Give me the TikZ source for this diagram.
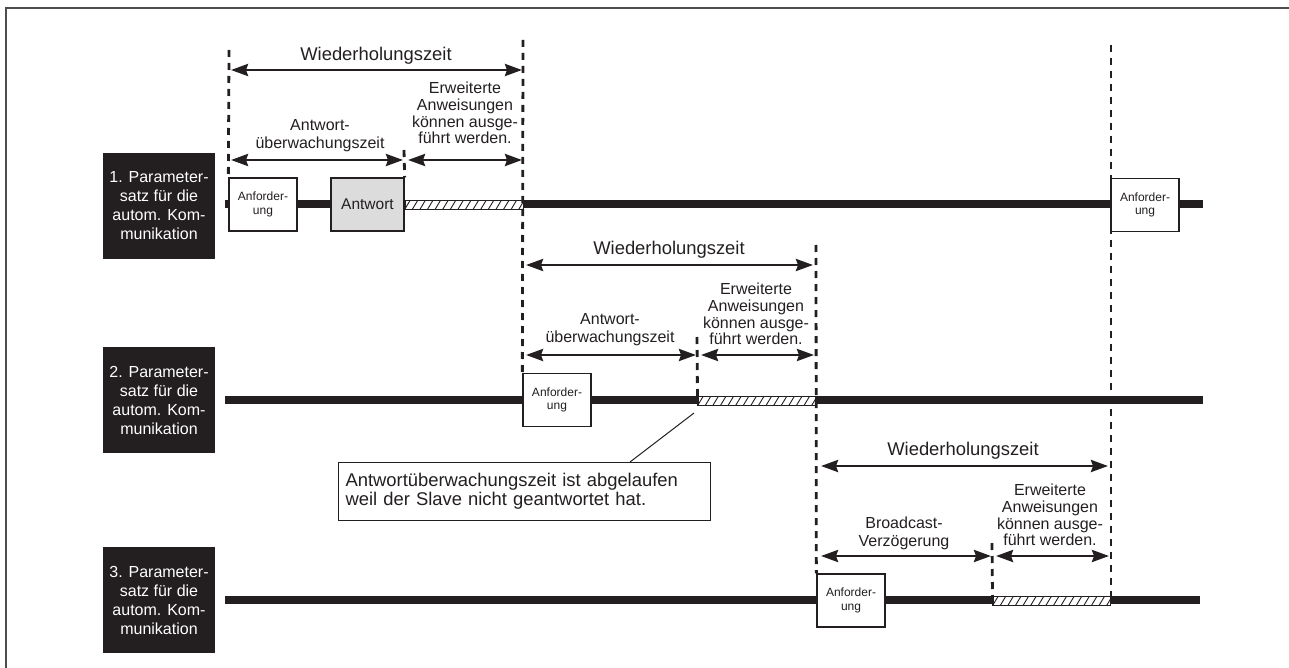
\documentclass[tikz,border=0pt]{standalone}
\usepackage{fontspec}
\setmainfont{Liberation Sans}
\usetikzlibrary{arrows.meta}
\definecolor{ink}{HTML}{231F20}
\definecolor{boxgray}{HTML}{DCDCDC}

\begin{document}
\begin{tikzpicture}[x=1pt,y=-1pt,
  frameline/.style={draw=ink!80, line width=2pt},
  timeline/.style={draw=ink, line width=8pt},
  guide/.style={draw=ink, line width=2.8pt, dash pattern=on 7pt off 6pt},
  span/.style={draw=ink, line width=2.8pt,
    {Stealth[length=17pt,width=12pt,inset=2pt]}-{Stealth[length=17pt,width=12pt,inset=2pt]}},
  labelbox/.style={fill=ink, text=white, minimum width=112pt, minimum height=106pt,
    inner sep=0pt, align=center, font=\fontsize{16}{19}\selectfont},
  reqbox/.style={draw=ink, fill=white, line width=1.3pt, minimum width=68pt,
    minimum height=53pt, inner sep=0pt, align=center, text=ink,
    font=\fontsize{12}{13.5}\selectfont},
  ansbox/.style={reqbox, fill=boxgray, minimum width=73pt, font=\fontsize{15.5}{18}\selectfont},
  hatchbar/.style={draw=ink, fill=white, line width=1pt, inner sep=0pt, minimum height=8.5pt},
  hatchline/.style={draw=ink, line width=0.9pt},
  period/.style={text=ink, inner sep=0pt, font=\fontsize{18.4}{22}\selectfont},
  phase/.style={text=ink, inner sep=0pt, align=center, font=\fontsize{16}{18}\selectfont},
  extra/.style={text=ink, inner sep=0pt, align=center, font=\fontsize{16}{16.8}\selectfont},
  note/.style={draw=ink, fill=white, line width=1pt, align=left, text=ink,
    text width=358pt, inner xsep=7pt, inner ysep=0pt, minimum height=58pt,
    font=\fontsize{18.4}{18.6}\selectfont}
]
\useasboundingbox (0,0) rectangle (1289,668);

% frame (top and left edge)
\coordinate (fTL) at (6,8);
\coordinate (fTR) at (1289,8);
\coordinate (fBL) at (6,668);
\draw[frameline] (fTR) -- (fTL) -- (fBL);

% parameter set labels
\node[labelbox] (p1) at (159,206) {1. Parameter-\\satz für die\\autom. Kom-\\munikation};
\node[labelbox] (p2) at (159,400) {2. Parameter-\\satz für die\\autom. Kom-\\munikation};
\node[labelbox] (p3) at (159,600) {3. Parameter-\\satz für die\\autom. Kom-\\munikation};

% time lines
\coordinate (t1a) at (225,204);  \coordinate (t1b) at (1203,204);
\coordinate (t2a) at (225,400);  \coordinate (t2b) at (1203,400);
\coordinate (t3a) at (225,600);  \coordinate (t3b) at (1200,600);
\draw[timeline] (t1a) -- (t1b);
\draw[timeline] (t2a) -- (t2b);
\draw[timeline] (t3a) -- (t3b);

% hatched phases (extended instructions)
\node[hatchbar, minimum width=118pt] (h1) at (464,205) {};
\node[hatchbar, minimum width=117pt] (h2) at (756.5,401) {};
\node[hatchbar, minimum width=117pt] (h3) at (1051.5,601) {};
\foreach \h in {h1,h2,h3}{
  \begin{scope}
    \clip (\h.south west) rectangle (\h.north east);
    \foreach \k in {-1,...,16}
      \draw[hatchline] ([xshift=\k*7.6pt]\h.south west) -- ++(6,-10);
  \end{scope}
  \draw[draw=ink, line width=1pt] (\h.south west) rectangle (\h.north east);
}

% telegram boxes
\node[reqbox] (r1) at (263,204.5) {Anforder-\\ung};
\node[ansbox] (ans) at (367.5,204.5) {Antwort};
\node[reqbox] (r1b) at (1145,205) {Anforder-\\ung};
\node[reqbox] (r2) at (557,400) {Anforder-\\ung};
\node[reqbox] (r3) at (851,600.5) {Anforder-\\ung};

% dashed time marks
\coordinate (g1) at (229,50);
\coordinate (g2) at (523,40);
\coordinate (g3) at (404,150);
\coordinate (g4) at (1111,45);
\coordinate (g4e) at (1111,598);
\coordinate (g5) at (816,245);
\coordinate (g6) at (697,337);
\coordinate (g7) at (992,543);
\draw[guide] (g1) -- (r1.north west);
\draw[guide] (g2) -- (r2.north west);
\draw[guide] (g3) -- (ans.north east);
\draw[guide] (g4) -- (g4e);
\draw[guide] (g5) -- (r3.north west);
\draw[guide] (g6) -- (h2.north west);
\draw[guide] (g7) -- (h3.north west);

% span arrows, row 1
\coordinate (a1l) at (231,70);  \coordinate (a1r) at (522,70);
\coordinate (b1l) at (231,160); \coordinate (b1r) at (403,160);
\coordinate (c1l) at (408,160); \coordinate (c1r) at (522,160);
\draw[span] (a1l) -- (a1r);
\draw[span] (b1l) -- (b1r);
\draw[span] (c1l) -- (c1r);

% span arrows, row 2
\coordinate (a2l) at (526,265); \coordinate (a2r) at (813,265);
\coordinate (b2l) at (526,355); \coordinate (b2r) at (696,355);
\coordinate (c2l) at (701,355); \coordinate (c2r) at (814,355);
\draw[span] (a2l) -- (a2r);
\draw[span] (b2l) -- (b2r);
\draw[span] (c2l) -- (c2r);

% span arrows, row 3
\coordinate (a3l) at (821,466); \coordinate (a3r) at (1108,466);
\coordinate (b3l) at (821,556); \coordinate (b3r) at (991,556);
\coordinate (c3l) at (996,556); \coordinate (c3r) at (1109,556);
\draw[span] (a3l) -- (a3r);
\draw[span] (b3l) -- (b3r);
\draw[span] (c3l) -- (c3r);

% span labels
\node[period] (w1) at (376,56) {Wiederholungszeit};
\node[period] (w2) at (669,250) {Wiederholungszeit};
\node[period] (w3) at (963,451) {Wiederholungszeit};
\node[phase] (u1) at (320,136) {Antwort-\\überwachungszeit};
\node[phase] (u2) at (610,330) {Antwort-\\überwachungszeit};
\node[phase] (u3) at (904,533) {Broadcast-\\Verzögerung};
\node[extra] (e1) at (465,113) {Erweiterte\\Anweisungen\\können ausge-\\führt werden.};
\node[extra] (e2) at (756,314) {Erweiterte\\Anweisungen\\können ausge-\\führt werden.};
\node[extra] (e3) at (1050,515) {Erweiterte\\Anweisungen\\können ausge-\\führt werden.};

% timeout remark
\node[note, anchor=north west] (n) at (338,462)
  {Antwortüberwachungszeit ist abgelaufen\\weil der Slave nicht geantwortet hat.};
\coordinate (ptr) at (694,413);
\coordinate (ptrb) at (630,462);
\draw[draw=ink, line width=1pt] (ptr) -- (ptrb);
\end{tikzpicture}
\end{document}
